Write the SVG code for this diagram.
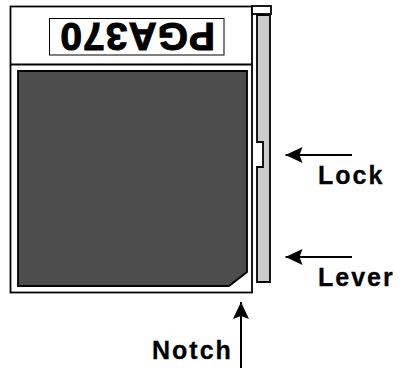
<svg xmlns="http://www.w3.org/2000/svg" width="401" height="368" viewBox="0 0 401 368">
<style>
.lab{font-family:"Liberation Sans",Arial,sans-serif;font-weight:bold;font-size:25px;letter-spacing:2px;fill:#000;stroke:#000;stroke-width:0.300}
.arrow{stroke:#000;stroke-width:2;marker-end:url(#ah)}
</style>
<defs>
<marker id="ah" markerUnits="userSpaceOnUse" markerWidth="18" markerHeight="17" refX="17" refY="8.500" orient="auto"><path d="M0 0.500L17 8.500L0 16.500L3 8.500Z" fill="#000"/></marker>
</defs>
<rect width="401" height="368" fill="#fff"/>
<g id="body">
<rect x="10.500" y="6.500" width="241.500" height="286" fill="#fff" stroke="#000" stroke-width="1.800"/>
<line x1="10" y1="64.500" x2="252" y2="64.500" stroke="#000" stroke-width="1.800"/>
</g>
<g id="label">
<rect x="49.500" y="18.500" width="174.500" height="36.500" fill="#fff" stroke="#000" stroke-width="1"/>
<text transform="translate(215 23) rotate(180)" x="0" y="0" font-family="Liberation Sans,Arial,sans-serif" font-weight="bold" font-size="39" letter-spacing="1" stroke="#000" stroke-width="1" fill="#000">PGA370</text>
</g>
<g id="die">
<path d="M18 71H247V272L229 286H18Z" fill="#4d4d4d" stroke="#000" stroke-width="1.800"/>
</g>
<g id="lever">
<path d="M257 15H270V282H257V167H263V142H257Z" fill="#ccc" stroke="#000" stroke-width="1.800"/>
<rect x="252" y="6" width="19" height="8" fill="#fff" stroke="#000" stroke-width="1.800"/>
</g>
<g id="connectors">
<line class="arrow" x1="352" y1="155" x2="285.500" y2="155"/>
<line class="arrow" x1="352" y1="257" x2="285.500" y2="257"/>
<line class="arrow" x1="241" y1="368" x2="241" y2="302"/>
</g>
<g id="labels">
<text class="lab" x="318" y="184">Lock</text>
<text class="lab" x="318" y="286">Lever</text>
<text class="lab" x="152" y="359">Notch</text>
</g>
</svg>
